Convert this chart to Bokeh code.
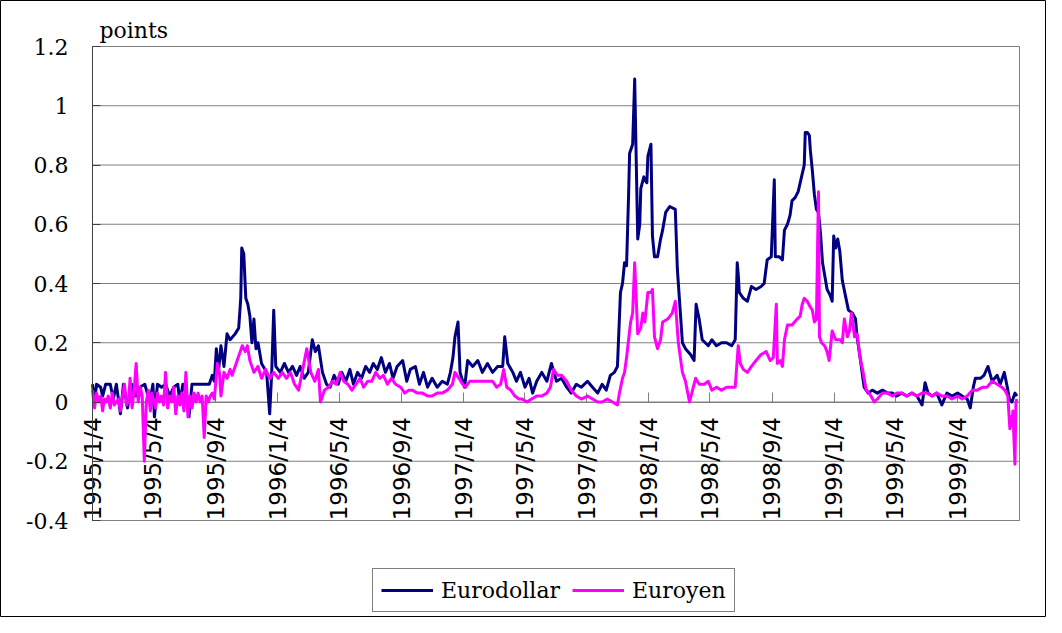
import math
import datetime as dt
from bokeh.plotting import figure
from bokeh.models import Range1d, FixedTicker, Legend, LegendItem, Label, ColumnDataSource
from bokeh.core.properties import value
from bokeh.embed import file_html
from bokeh.resources import INLINE

# ---------------- data ----------------
tick_labels = ["1995/1/4", "1995/5/4", "1995/9/4", "1996/1/4", "1996/5/4", "1996/9/4",
               "1997/1/4", "1997/5/4", "1997/9/4", "1998/1/4", "1998/5/4", "1998/9/4",
               "1999/1/4", "1999/5/4", "1999/9/4"]
x_start = "1995-01-04"
x_end = "2000-01-04"

y_ticks = [-0.4, -0.2, 0, 0.2, 0.4, 0.6, 0.8, 1, 1.2]
y_tick_labels = ["-0.4", "-0.2", "0", "0.2", "0.4", "0.6", "0.8", "1", "1.2"]

eurodollar_dates = [
    "1995-01-04", "1995-01-08", "1995-01-12", "1995-01-20", "1995-01-24", "1995-01-30",
    "1995-02-08", "1995-02-14", "1995-02-20", "1995-02-28", "1995-03-06", "1995-03-14",
    "1995-03-22", "1995-03-30", "1995-04-07", "1995-04-17", "1995-04-27", "1995-05-03",
    "1995-05-06", "1995-05-12", "1995-05-20", "1995-05-28", "1995-06-05", "1995-06-13",
    "1995-06-21", "1995-06-25", "1995-07-01", "1995-07-07", "1995-07-13", "1995-07-19",
    "1995-07-31", "1995-08-12", "1995-08-22", "1995-08-28", "1995-09-01", "1995-09-05",
    "1995-09-09", "1995-09-14", "1995-09-20", "1995-09-26", "1995-10-02", "1995-10-12",
    "1995-10-19", "1995-10-23", "1995-10-25", "1995-10-29", "1995-11-02", "1995-11-06",
    "1995-11-10", "1995-11-14", "1995-11-18", "1995-11-22", "1995-11-26", "1995-12-03",
    "1995-12-13", "1995-12-19", "1995-12-23", "1995-12-27", "1995-12-31",
    "1996-01-09", "1996-01-17", "1996-01-25", "1996-02-02", "1996-02-10", "1996-02-17",
    "1996-02-25", "1996-03-04", "1996-03-12", "1996-03-18", "1996-03-24", "1996-04-01",
    "1996-04-09", "1996-04-16", "1996-04-24", "1996-05-02", "1996-05-09", "1996-05-17",
    "1996-05-25", "1996-06-01", "1996-06-09", "1996-06-17", "1996-06-25", "1996-07-03",
    "1996-07-10", "1996-07-18", "1996-07-26", "1996-08-03", "1996-08-11", "1996-08-18",
    "1996-08-26", "1996-09-06", "1996-09-14", "1996-09-21", "1996-10-01", "1996-10-09",
    "1996-10-17", "1996-10-25", "1996-11-03", "1996-11-13", "1996-11-23", "1996-12-03",
    "1996-12-09", "1996-12-14", "1996-12-18", "1996-12-24", "1996-12-28",
    "1997-01-06", "1997-01-12", "1997-01-22", "1997-02-01", "1997-02-10", "1997-02-20",
    "1997-03-02", "1997-03-12", "1997-03-22", "1997-03-26", "1997-04-01", "1997-04-11",
    "1997-04-18", "1997-04-26", "1997-05-05", "1997-05-13", "1997-05-20", "1997-05-28",
    "1997-06-07", "1997-06-17", "1997-06-26", "1997-07-06", "1997-07-16", "1997-07-26",
    "1997-08-04", "1997-08-14", "1997-08-24", "1997-09-05", "1997-09-15", "1997-09-25",
    "1997-10-04", "1997-10-12", "1997-10-20", "1997-10-28", "1997-11-03", "1997-11-09",
    "1997-11-13", "1997-11-17", "1997-11-21", "1997-11-25", "1997-11-27", "1997-12-03",
    "1997-12-07", "1997-12-13", "1997-12-17", "1997-12-19", "1997-12-25", "1997-12-31",
    "1998-01-02", "1998-01-08", "1998-01-11", "1998-01-15", "1998-01-21", "1998-01-27",
    "1998-01-31", "1998-02-06", "1998-02-14", "1998-02-25", "1998-03-01", "1998-03-07",
    "1998-03-11", "1998-03-17", "1998-03-27", "1998-04-03", "1998-04-07", "1998-04-13",
    "1998-04-19", "1998-04-25", "1998-05-01", "1998-05-08", "1998-05-17", "1998-05-27",
    "1998-06-06", "1998-06-16", "1998-06-23", "1998-06-27", "1998-06-29", "1998-07-01",
    "1998-07-09", "1998-07-17", "1998-07-25", "1998-08-03", "1998-08-13", "1998-08-19",
    "1998-08-25", "1998-09-02", "1998-09-08", "1998-09-10", "1998-09-18", "1998-09-24",
    "1998-09-28", "1998-10-04", "1998-10-09", "1998-10-13", "1998-10-19", "1998-10-25",
    "1998-11-02", "1998-11-06", "1998-11-08", "1998-11-12", "1998-11-16", "1998-11-18",
    "1998-11-22", "1998-11-26", "1998-11-30", "1998-12-04", "1998-12-08", "1998-12-12",
    "1998-12-16", "1998-12-21", "1998-12-27", "1998-12-31",
    "1999-01-03", "1999-01-07", "1999-01-11", "1999-01-15", "1999-01-20", "1999-01-26",
    "1999-02-01", "1999-02-09", "1999-02-15", "1999-02-18", "1999-02-24", "1999-03-04",
    "1999-03-12", "1999-03-20", "1999-03-30", "1999-04-09", "1999-04-19", "1999-04-29",
    "1999-05-07", "1999-05-17", "1999-05-27", "1999-06-06", "1999-06-16", "1999-06-26",
    "1999-07-02", "1999-07-08", "1999-07-16", "1999-07-25", "1999-08-04", "1999-08-14",
    "1999-08-24", "1999-09-04", "1999-09-13", "1999-09-23", "1999-09-29", "1999-10-05",
    "1999-10-09", "1999-10-19", "1999-10-26", "1999-11-03", "1999-11-11", "1999-11-21",
    "1999-11-27", "1999-12-05", "1999-12-11", "1999-12-15", "1999-12-20", "1999-12-26",
    "1999-12-30",
]
eurodollar_values = [
    0.06, 0.00, 0.06, 0.05, 0.02, 0.06,
    0.06, 0.01, 0.06, -0.04, 0.06, -0.02,
    0.06, 0.02, 0.05, 0.06, 0.00, 0.06,
    -0.05, 0.06, 0.05, 0.06, 0.02, 0.05,
    0.06, 0.00, 0.06, 0.03, -0.05, 0.06,
    0.06, 0.06, 0.06, 0.09, 0.07, 0.18,
    0.10, 0.19, 0.12, 0.23, 0.21, 0.23,
    0.25, 0.35, 0.52, 0.50, 0.35, 0.33,
    0.29, 0.20, 0.28, 0.18, 0.20, 0.13,
    0.10, -0.04, 0.10, 0.31, 0.12,
    0.10, 0.13, 0.10, 0.12, 0.09, 0.12,
    0.08, 0.10, 0.21, 0.17, 0.19, 0.10,
    0.06, 0.05, 0.09, 0.06, 0.10, 0.07,
    0.11, 0.06, 0.10, 0.08, 0.12, 0.10,
    0.13, 0.11, 0.15, 0.10, 0.13, 0.08,
    0.12, 0.14, 0.07, 0.11, 0.12, 0.06,
    0.10, 0.05, 0.08, 0.05, 0.07, 0.06,
    0.10, 0.15, 0.22, 0.27, 0.10,
    0.05, 0.14, 0.12, 0.14, 0.10, 0.13,
    0.10, 0.12, 0.12, 0.22, 0.13, 0.10,
    0.07, 0.10, 0.05, 0.08, 0.03, 0.07,
    0.10, 0.07, 0.13, 0.07, 0.08, 0.05,
    0.03, 0.06, 0.05, 0.07, 0.05, 0.03,
    0.06, 0.04, 0.09, 0.10, 0.12, 0.37,
    0.40, 0.47, 0.46, 0.70, 0.84, 0.87,
    1.09, 0.55, 0.60, 0.72, 0.76, 0.74,
    0.83, 0.87, 0.56, 0.49, 0.49, 0.55,
    0.58, 0.64, 0.66, 0.65, 0.45, 0.30,
    0.20, 0.18, 0.16, 0.14, 0.33, 0.28,
    0.21, 0.20, 0.19, 0.21, 0.19, 0.20,
    0.20, 0.19, 0.21, 0.47, 0.43, 0.37,
    0.35, 0.34, 0.39, 0.38, 0.39, 0.40,
    0.48, 0.49, 0.75, 0.49, 0.49, 0.48,
    0.58, 0.60, 0.63, 0.68, 0.69, 0.71,
    0.77, 0.80, 0.91, 0.91, 0.90, 0.85,
    0.78, 0.70, 0.65, 0.64, 0.57, 0.47,
    0.43, 0.38, 0.36, 0.34,
    0.56, 0.52, 0.55, 0.51, 0.41, 0.36,
    0.31, 0.30, 0.28, 0.22, 0.15, 0.05,
    0.03, 0.04, 0.03, 0.04, 0.03, 0.03,
    0.02, 0.03, 0.02, 0.03, 0.02, -0.01,
    0.065, 0.03, 0.02, 0.03, -0.01, 0.03,
    0.02, 0.03, 0.02, 0.01, -0.02, 0.05,
    0.08, 0.08, 0.09, 0.12, 0.07, 0.09,
    0.06, 0.10, 0.05, 0.01, 0.00, 0.03,
    0.02,
]

euroyen_dates = [
    "1995-01-04", "1995-01-08", "1995-01-12", "1995-01-16", "1995-01-20", "1995-01-24",
    "1995-01-27", "1995-01-31", "1995-02-04", "1995-02-08", "1995-02-12", "1995-02-16",
    "1995-02-20", "1995-02-24", "1995-02-28", "1995-03-04", "1995-03-08", "1995-03-12",
    "1995-03-16", "1995-03-19", "1995-03-23", "1995-03-27", "1995-03-31", "1995-04-04",
    "1995-04-08", "1995-04-12", "1995-04-16", "1995-04-20", "1995-04-24", "1995-04-28",
    "1995-05-01", "1995-05-04", "1995-05-08", "1995-05-12", "1995-05-16", "1995-05-20",
    "1995-05-24", "1995-05-28", "1995-06-01", "1995-06-05", "1995-06-09", "1995-06-13",
    "1995-06-17", "1995-06-21", "1995-06-25", "1995-06-29", "1995-07-03", "1995-07-07",
    "1995-07-11", "1995-07-15", "1995-07-19", "1995-07-23", "1995-07-27", "1995-07-31",
    "1995-08-04", "1995-08-08", "1995-08-12", "1995-08-16", "1995-08-20", "1995-08-24",
    "1995-08-28", "1995-09-01", "1995-09-07", "1995-09-11", "1995-09-14", "1995-09-20",
    "1995-09-26", "1995-10-02", "1995-10-06", "1995-10-12", "1995-10-18", "1995-10-22",
    "1995-10-26", "1995-11-01", "1995-11-05", "1995-11-10", "1995-11-18", "1995-11-26",
    "1995-12-03", "1995-12-11", "1995-12-19", "1995-12-27",
    "1996-01-05", "1996-01-13", "1996-01-21", "1996-01-29", "1996-02-06", "1996-02-14",
    "1996-02-21", "1996-03-01", "1996-03-09", "1996-03-17", "1996-03-24", "1996-03-28",
    "1996-04-05", "1996-04-13", "1996-04-21", "1996-04-28", "1996-05-06", "1996-05-13",
    "1996-05-21", "1996-05-29", "1996-06-06", "1996-06-14", "1996-06-21", "1996-06-29",
    "1996-07-07", "1996-07-15", "1996-07-23", "1996-07-30", "1996-08-07", "1996-08-15",
    "1996-08-23", "1996-09-02", "1996-09-10", "1996-09-18", "1996-09-25", "1996-10-05",
    "1996-10-15", "1996-10-25", "1996-11-03", "1996-11-13", "1996-11-23", "1996-12-03",
    "1996-12-13", "1996-12-18", "1996-12-26",
    "1997-01-02", "1997-01-08", "1997-01-16", "1997-01-26", "1997-02-06", "1997-02-18",
    "1997-03-02", "1997-03-10", "1997-03-18", "1997-03-24", "1997-03-30", "1997-04-07",
    "1997-04-15", "1997-04-23", "1997-04-29", "1997-05-09", "1997-05-18", "1997-05-28",
    "1997-06-07", "1997-06-17", "1997-06-24", "1997-06-30", "1997-07-08", "1997-07-16",
    "1997-07-26", "1997-08-04", "1997-08-14", "1997-08-24", "1997-09-05", "1997-09-15",
    "1997-09-25", "1997-10-04", "1997-10-14", "1997-10-24", "1997-11-03", "1997-11-07",
    "1997-11-13", "1997-11-17", "1997-11-21", "1997-11-25", "1997-11-29", "1997-12-03",
    "1997-12-07", "1997-12-13", "1997-12-19", "1997-12-23", "1997-12-27",
    "1998-01-02", "1998-01-08", "1998-01-11", "1998-01-15", "1998-01-21", "1998-01-27",
    "1998-01-31", "1998-02-10", "1998-02-19", "1998-02-25", "1998-03-03", "1998-03-11",
    "1998-03-17", "1998-03-25", "1998-03-31", "1998-04-06", "1998-04-13", "1998-04-23",
    "1998-05-01", "1998-05-08", "1998-05-17", "1998-05-27", "1998-06-06", "1998-06-16",
    "1998-06-23", "1998-06-29", "1998-07-03", "1998-07-09", "1998-07-17", "1998-07-25",
    "1998-08-03", "1998-08-13", "1998-08-23", "1998-08-31", "1998-09-06", "1998-09-12",
    "1998-09-14", "1998-09-20", "1998-09-24", "1998-09-28", "1998-10-04", "1998-10-13",
    "1998-10-23", "1998-10-29", "1998-11-02", "1998-11-06", "1998-11-12", "1998-11-18",
    "1998-11-22", "1998-11-26", "1998-11-30", "1998-12-04", "1998-12-06", "1998-12-10",
    "1998-12-16", "1998-12-21", "1998-12-25", "1998-12-31",
    "1999-01-07", "1999-01-16", "1999-01-20", "1999-01-24", "1999-01-30", "1999-02-03",
    "1999-02-07", "1999-02-13", "1999-02-18", "1999-02-24", "1999-03-02", "1999-03-08",
    "1999-03-14", "1999-03-24", "1999-03-30", "1999-04-09", "1999-04-19", "1999-04-29",
    "1999-05-07", "1999-05-17", "1999-05-27", "1999-06-06", "1999-06-16", "1999-06-26",
    "1999-07-06", "1999-07-16", "1999-07-25", "1999-08-04", "1999-08-14", "1999-08-24",
    "1999-09-04", "1999-09-13", "1999-09-23", "1999-10-03", "1999-10-13", "1999-10-23",
    "1999-11-01", "1999-11-11", "1999-11-21", "1999-11-30", "1999-12-06", "1999-12-12",
    "1999-12-16", "1999-12-18", "1999-12-20", "1999-12-22", "1999-12-26", "1999-12-28",
    "1999-12-30",
]
euroyen_values = [
    0.04, -0.02, 0.03, 0.00, 0.02, -0.03,
    0.01, 0.00, 0.02, -0.02, 0.03, -0.01,
    0.00, 0.01, -0.03, 0.02, 0.06, -0.01,
    0.00, 0.08, -0.02, 0.04, 0.13, 0.00,
    0.05, 0.02, -0.20, 0.00, 0.04, -0.03,
    0.03, 0.01, -0.02, 0.03, 0.00, 0.02,
    -0.01, 0.10, -0.02, 0.02, 0.00, 0.05,
    -0.04, 0.02, -0.01, 0.03, -0.03, 0.10,
    -0.05, 0.02, -0.02, 0.03, 0.00, 0.03,
    0.00, 0.02, -0.12, 0.02, 0.00, 0.02,
    0.03, 0.01, 0.13, 0.10, 0.02, 0.10,
    0.08, 0.11, 0.09, 0.12, 0.15, 0.17,
    0.19, 0.17, 0.19, 0.14, 0.10, 0.12,
    0.08, 0.11, 0.08, 0.10,
    0.08, 0.10, 0.08, 0.10, 0.06, 0.04,
    0.10, 0.18, 0.10, 0.07, 0.11, 0.00,
    0.04, 0.05, 0.07, 0.06, 0.10, 0.07,
    0.06, 0.04, 0.06, 0.08, 0.05, 0.07,
    0.07, 0.10, 0.08, 0.09, 0.06, 0.08,
    0.06, 0.05, 0.03, 0.04, 0.04, 0.03,
    0.03, 0.02, 0.02, 0.03, 0.03, 0.04,
    0.06, 0.10, 0.08,
    0.06, 0.05, 0.07, 0.07, 0.07, 0.07,
    0.07, 0.05, 0.06, 0.11, 0.05, 0.04,
    0.02, 0.01, 0.01, 0.00, 0.01, 0.02,
    0.02, 0.03, 0.05, 0.11, 0.09, 0.09,
    0.07, 0.04, 0.02, 0.01, 0.02, 0.01,
    0.00, 0.00, 0.01, 0.00, -0.01, 0.03,
    0.08, 0.10, 0.15, 0.21, 0.27, 0.30,
    0.47, 0.23, 0.25, 0.30, 0.27,
    0.37, 0.37, 0.38, 0.22, 0.18, 0.21,
    0.27, 0.28, 0.30, 0.34, 0.20, 0.10,
    0.07, 0.00, 0.04, 0.08, 0.06, 0.06,
    0.07, 0.04, 0.05, 0.04, 0.05, 0.05,
    0.05, 0.19, 0.13, 0.11, 0.10, 0.12,
    0.14, 0.16, 0.17, 0.14, 0.15, 0.33,
    0.13, 0.14, 0.12, 0.21, 0.26, 0.26,
    0.28, 0.29, 0.33, 0.35, 0.34, 0.32,
    0.31, 0.27, 0.28, 0.71, 0.22, 0.20,
    0.19, 0.17, 0.14, 0.24,
    0.21, 0.21, 0.20, 0.28, 0.22, 0.24,
    0.30, 0.22, 0.23, 0.15, 0.10, 0.04,
    0.03, 0.00, 0.01, 0.03, 0.03, 0.02,
    0.03, 0.03, 0.02, 0.03, 0.02, 0.03,
    0.03, 0.02, 0.03, 0.02, 0.02, 0.01,
    0.02, 0.01, 0.02, 0.04, 0.04, 0.05,
    0.05, 0.07, 0.06, 0.05, 0.04, 0.02,
    -0.09, -0.05, -0.08, -0.03, -0.21, 0.00,
    0.01,
]

# ---------------- helpers ----------------
EPOCH = dt.datetime(1970, 1, 1)


def iso_ms(s):
    return (dt.datetime.strptime(s, "%Y-%m-%d") - EPOCH).total_seconds() * 1000.0


def label_ms(s):
    y, m, d = (int(v) for v in s.split("/"))
    return (dt.datetime(y, m, d) - EPOCH).total_seconds() * 1000.0


tick_ms = [label_ms(s) for s in tick_labels]

# ---------------- layout (canvas pixels) ----------------
W, H = 1046, 617
PL, PR, PT, PB = 92, 1019, 46, 520     # plot-area edges inside the canvas

xs, xe = iso_ms(x_start), iso_ms(x_end)
ys, ye = y_ticks[0], y_ticks[-1]
xpp = (xe - xs) / (PR - PL)
ypp = (ye - ys) / (PB - PT)
x_range = Range1d(xs - PL * xpp, xe + (W - PR) * xpp)
y_range = Range1d(ys - (H - PB) * ypp, ye + PT * ypp)

src_usd = ColumnDataSource(dict(x=[iso_ms(d) for d in eurodollar_dates], y=eurodollar_values))
src_jpy = ColumnDataSource(dict(x=[iso_ms(d) for d in euroyen_dates], y=euroyen_values))

SERIF = "DejaVu Serif"
SANS = "DejaVu Sans"
GRID = "#808080"

p = figure(width=W, height=H, x_range=x_range, y_range=y_range,
           output_backend="svg", toolbar_location=None,
           min_border=0, min_border_left=0, min_border_right=0,
           min_border_top=0, min_border_bottom=0)
p.background_fill_color = "white"
p.border_fill_color = "white"
p.outline_line_color = "black"      # outer chart border
p.outline_line_width = 1
p.xgrid.visible = False
p.ygrid.visible = False

# horizontal gridlines and the plot-area border
p.segment(x0=[xs] * len(y_ticks), x1=[xe] * len(y_ticks), y0=y_ticks, y1=y_ticks,
          line_color=GRID, line_width=1)
p.quad(left=[xs], right=[xe], bottom=[ys], top=[ye],
       fill_color=None, line_color=GRID, line_width=1)

# y axis on the plot-area's left edge
ya = p.yaxis[0]
ya.fixed_location = xs
ya.bounds = (ys, ye)
ya.ticker = FixedTicker(ticks=y_ticks)
ya.major_label_overrides = {t: l for t, l in zip(y_ticks, y_tick_labels)}
ya.major_label_text_font = SERIF
ya.major_label_text_font_size = "22px"
ya.major_label_text_color = "black"
ya.major_label_standoff = 24
ya.axis_line_color = "#404040"
ya.major_tick_line_color = "#404040"
ya.major_tick_in = 8
ya.major_tick_out = 0
ya.minor_tick_line_color = None

# x axis on the zero line (tick marks); its labels are drawn as rotated text
xa = p.xaxis[0]
xa.fixed_location = 0
xa.bounds = (xs, xe)
xa.level = "underlay"
xa.ticker = FixedTicker(ticks=tick_ms)
xa.major_label_text_color = None
xa.axis_line_color = GRID
xa.major_tick_line_color = GRID
xa.major_tick_in = 10
xa.major_tick_out = 0
xa.minor_tick_line_color = None

p.text(x=tick_ms, y=[0] * len(tick_ms), text=tick_labels, angle=math.pi / 2,
       text_align="right", text_baseline="middle", y_offset=15,
       text_font=value(SANS), text_font_size="23px", text_color="black")

r_usd = p.line("x", "y", source=src_usd, line_color="#000080", line_width=3, line_join="round")
r_jpy = p.line("x", "y", source=src_jpy, line_color="#FF00FF", line_width=3, line_join="round")

p.add_layout(Label(x=xs, y=ye, x_offset=7, y_offset=16, text="points",
                   text_font=SERIF, text_font_size="22px", text_color="black",
                   text_baseline="alphabetic", text_align="left"))

legend = Legend(items=[LegendItem(label="Eurodollar", renderers=[r_usd]),
                       LegendItem(label="Euroyen", renderers=[r_jpy])],
                location=(372, 5), orientation="horizontal")
legend.label_text_font = SERIF
legend.label_text_font_size = "22px"
legend.label_text_color = "black"
legend.border_line_color = "#000000"
legend.border_line_width = 1
legend.background_fill_color = "white"
legend.background_fill_alpha = 1
legend.glyph_width = 52
legend.glyph_height = 26
legend.label_height = 26
legend.label_standoff = 8
legend.spacing = 12
legend.padding = 8
legend.margin = 0
p.add_layout(legend)

open("out.html", "w").write(file_html(p, INLINE))
